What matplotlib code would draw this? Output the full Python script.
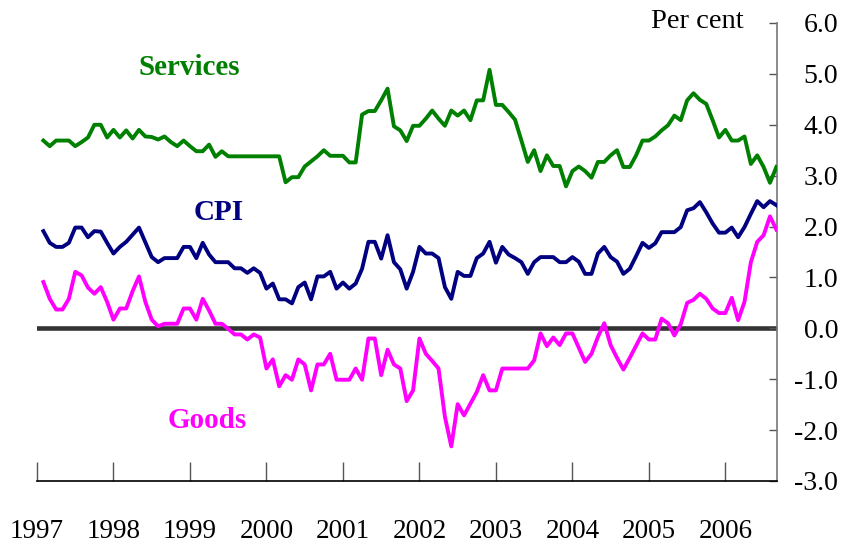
import numpy as np
import pandas as pd
import matplotlib
matplotlib.use("Agg")
import matplotlib.pyplot as plt

months = pd.date_range("1997-02-01", periods=116, freq="MS")

services = [3.69, 3.58, 3.69, 3.69, 3.69, 3.58, 3.66, 3.75, 4.00, 4.00,
            3.75, 3.90, 3.75, 3.89, 3.73, 3.90, 3.77, 3.76, 3.71, 3.77,
            3.66, 3.58, 3.69, 3.58, 3.48, 3.48, 3.61, 3.37, 3.48, 3.38,
            3.38, 3.38, 3.38, 3.38, 3.38, 3.38, 3.38, 3.38, 2.87, 2.97,
            2.97, 3.18, 3.28, 3.38, 3.50, 3.39, 3.39, 3.39, 3.26, 3.26,
            4.20, 4.27, 4.27, 4.48, 4.71, 3.97, 3.89, 3.68, 3.98, 3.98,
            4.12, 4.28, 4.12, 3.98, 4.28, 4.18, 4.28, 4.09, 4.48, 4.48,
            5.08, 4.39, 4.39, 4.25, 4.10, 3.69, 3.27, 3.50, 3.09, 3.40,
            3.19, 3.19, 2.79, 3.09, 3.18, 3.09, 2.96, 3.27, 3.27, 3.40,
            3.50, 3.17, 3.17, 3.40, 3.69, 3.69, 3.77, 3.89, 3.99, 4.18,
            4.09, 4.48, 4.62, 4.49, 4.41, 4.09, 3.75, 3.90, 3.69, 3.69,
            3.77, 3.23, 3.40, 3.17, 2.86, 3.17]

cpi = [1.91, 1.68, 1.60, 1.60, 1.68, 1.98, 1.98, 1.79, 1.91, 1.90,
       1.68, 1.47, 1.60, 1.70, 1.84, 1.98, 1.69, 1.40, 1.30, 1.38,
       1.38, 1.38, 1.60, 1.60, 1.38, 1.68, 1.45, 1.30, 1.30, 1.30,
       1.18, 1.18, 1.09, 1.18, 1.09, 0.78, 0.88, 0.57, 0.57, 0.49,
       0.81, 0.90, 0.57, 1.02, 1.02, 1.11, 0.78, 0.90, 0.78, 0.88,
       1.17, 1.70, 1.70, 1.37, 1.83, 1.30, 1.16, 0.78, 1.11, 1.60,
       1.47, 1.47, 1.38, 0.81, 0.58, 1.11, 1.03, 1.03, 1.38, 1.47,
       1.70, 1.29, 1.60, 1.45, 1.38, 1.30, 1.07, 1.30, 1.40, 1.40,
       1.40, 1.30, 1.30, 1.40, 1.31, 1.07, 1.07, 1.47, 1.60, 1.40,
       1.31, 1.07, 1.17, 1.42, 1.68, 1.58, 1.67, 1.89, 1.89, 1.89,
       1.99, 2.32, 2.36, 2.48, 2.28, 2.06, 1.88, 1.88, 1.98, 1.79,
       1.99, 2.25, 2.50, 2.38, 2.50, 2.42]

goods = [0.91, 0.58, 0.37, 0.37, 0.58, 1.11, 1.04, 0.80, 0.68, 0.81,
         0.52, 0.17, 0.39, 0.39, 0.73, 1.02, 0.52, 0.17, 0.04, 0.09,
         0.09, 0.09, 0.39, 0.39, 0.17, 0.58, 0.35, 0.09, 0.09, -0.01,
         -0.12, -0.12, -0.22, -0.12, -0.18, -0.79, -0.61, -1.14, -0.92, -1.01,
         -0.61, -0.71, -1.22, -0.71, -0.71, -0.50, -1.01, -1.01, -1.01, -0.79,
         -1.01, -0.20, -0.20, -0.92, -0.42, -0.71, -0.79, -1.43, -1.22, -0.20,
         -0.50, -0.64, -0.79, -1.74, -2.32, -1.49, -1.71, -1.48, -1.25, -0.92,
         -1.22, -1.22, -0.79, -0.79, -0.79, -0.79, -0.79, -0.63, -0.10, -0.35,
         -0.18, -0.33, -0.10, -0.10, -0.38, -0.66, -0.50, -0.17, 0.10, -0.33,
         -0.58, -0.81, -0.58, -0.34, -0.10, -0.22, -0.22, 0.19, 0.10, -0.14,
         0.08, 0.50, 0.56, 0.68, 0.58, 0.39, 0.30, 0.30, 0.60, 0.16,
         0.52, 1.30, 1.70, 1.83, 2.20, 1.94]

years = ["1997", "1998", "1999", "2000", "2001", "2002", "2003", "2004", "2005", "2006"]
yticks = [-3.0, -2.0, -1.0, 0.0, 1.0, 2.0, 3.0, 4.0, 5.0, 6.0]

plt.rcParams["font.family"] = ["Liberation Serif", "DejaVu Serif"]

x = (months.year - 1997) * 12 + (months.month - 1)

fig = plt.figure(figsize=(8.61, 5.45), dpi=100)
ax = fig.add_axes([37 / 861, 1 - 481 / 545, 740 / 861, 458 / 545])

ax.axhline(0, color="#333333", lw=3.3, zorder=1)
ax.plot(x, services, color="#008000", lw=2.8, zorder=3)
ax.plot(x, cpi, color="#000080", lw=2.8, zorder=3)
ax.plot(x, goods, color="#FF00FF", lw=2.8, zorder=3)

ax.set_xlim(0, 116.1)
ax.set_ylim(-3.0, 6.0)

for s in ["left", "top"]:
    ax.spines[s].set_visible(False)
ax.spines["bottom"].set_color("black")
ax.spines["bottom"].set_linewidth(1.2)
ax.spines["right"].set_color("#777777")
ax.spines["right"].set_linewidth(1.2)

ax.set_xticks(np.arange(0, 12 * len(years), 12))
ax.set_xticklabels(years)
ax.tick_params(axis="x", direction="in", length=14, width=1.0, color="#555555",
               pad=27, labelsize=19.5)

ax.yaxis.tick_right()
ax.set_yticks(yticks)
ax.set_yticklabels(["%.1f" % v for v in yticks])
ax.tick_params(axis="y", direction="in", length=6, width=1.0, color="#555555",
               pad=44, labelsize=20)
for lab in ax.get_yticklabels():
    lab.set_horizontalalignment("right")

fig.text(189 / 861, 1 - 67 / 545, "Services", color="#008000", fontsize=21,
         fontweight="bold", ha="center", va="center")
fig.text(219 / 861, 1 - 213 / 545, "CPI", color="#000080", fontsize=21,
         fontweight="bold", ha="center", va="center")
fig.text(207 / 861, 1 - 420 / 545, "Goods", color="#FF00FF", fontsize=21,
         fontweight="bold", ha="center", va="center")
fig.text(744 / 861, 1 - 21 / 545, "Per cent", color="black", fontsize=20.5,
         ha="right", va="center")

fig.savefig("out.png", dpi=100)
